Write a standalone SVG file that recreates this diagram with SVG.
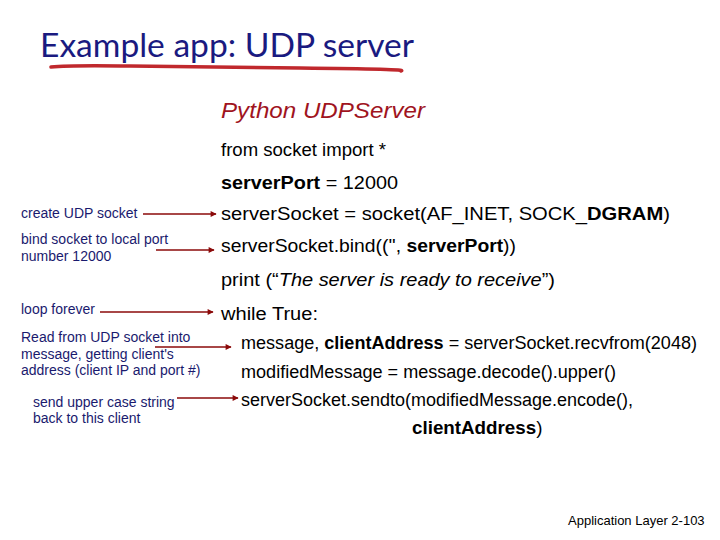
<svg xmlns="http://www.w3.org/2000/svg" width="720" height="540" viewBox="0 0 720 540">
<style>
.title{font-family:Lato,"Open Sans","Liberation Sans",sans-serif;font-size:33.5px;fill:#1a1a80}
.code{font-family:"Liberation Sans",Arial,sans-serif;font-size:18.8px;fill:#000}
.b{font-weight:bold}
.py{font-family:"Liberation Sans",Arial,sans-serif;font-size:22.5px;font-style:italic;fill:#a0141e}
.lbl{font-family:"Liberation Sans",Arial,sans-serif;font-size:14px;fill:#1a1a6e}
.foot{font-family:"Liberation Sans",Arial,sans-serif;font-size:13px;fill:#000}
.arr{stroke:#8b0a0a;stroke-width:1.3;fill:none;marker-end:url(#ah)}
</style>
<defs>
<marker id="ah" viewBox="0 0 10 10" refX="9" refY="5" markerWidth="7" markerHeight="6" orient="auto" markerUnits="userSpaceOnUse">
<path d="M0,0 L10,5 L0,10 z" fill="#8b0a0a"/>
</marker>
</defs>
<rect width="720" height="540" fill="#fff"/>
<g id="title">
<text class="title" x="40" y="57" textLength="374" lengthAdjust="spacingAndGlyphs">Example app: UDP server</text>
<path d="M51,67 Q70,65 130,66 T300,68 T401,71" stroke="#c0282d" stroke-width="3.5" fill="none" stroke-linecap="round"/>
</g>
<g id="code">
<text class="py" x="221" y="118" textLength="204" lengthAdjust="spacingAndGlyphs">Python UDPServer</text>
<text class="code" x="221" y="156" textLength="165" lengthAdjust="spacingAndGlyphs">from socket import *</text>
<text class="code" x="221" y="189" textLength="177" lengthAdjust="spacingAndGlyphs"><tspan class="b">serverPort</tspan> = 12000</text>
<text class="code" x="221" y="220" textLength="449" lengthAdjust="spacingAndGlyphs">serverSocket = socket(AF_INET, SOCK_<tspan class="b">DGRAM</tspan>)</text>
<text class="code" x="221" y="252" textLength="295" lengthAdjust="spacingAndGlyphs">serverSocket.bind(('', <tspan class="b">serverPort</tspan>))</text>
<text class="code" x="221" y="286" textLength="334" lengthAdjust="spacingAndGlyphs">print (“<tspan font-style="italic">The server is ready to receive</tspan>”)</text>
<text class="code" x="221" y="320" textLength="97" lengthAdjust="spacingAndGlyphs">while True:</text>
<text class="code" x="241" y="349" textLength="456" lengthAdjust="spacingAndGlyphs">message, <tspan class="b">clientAddress</tspan> = serverSocket.recvfrom(2048)</text>
<text class="code" x="241" y="378" textLength="375" lengthAdjust="spacingAndGlyphs">modifiedMessage = message.decode().upper()</text>
<text class="code" x="241" y="406" textLength="392" lengthAdjust="spacingAndGlyphs">serverSocket.sendto(modifiedMessage.encode(),</text>
<text class="code" x="412" y="434" font-size="18.5"><tspan class="b">clientAddress</tspan>)</text>
</g>
<g id="labels">
<text class="lbl" x="21" y="218">create UDP socket</text>
<text class="lbl" x="21" y="244">bind socket to local port</text>
<text class="lbl" x="21" y="261">number 12000</text>
<text class="lbl" x="21" y="314">loop forever</text>
<text class="lbl" x="21" y="342">Read from UDP socket into</text>
<text class="lbl" x="21" y="359">message, getting client's</text>
<text class="lbl" x="21" y="375">address (client IP and port #)</text>
<text class="lbl" x="33" y="407">send upper case string</text>
<text class="lbl" x="33" y="423">back to this client</text>
</g>
<g id="connectors">
<line class="arr" x1="143" y1="214" x2="216" y2="214"/>
<line class="arr" x1="156" y1="250" x2="214" y2="250"/>
<line class="arr" x1="100" y1="312" x2="213" y2="312"/>
<line class="arr" x1="155" y1="347" x2="231" y2="347"/>
<line class="arr" x1="177" y1="398" x2="238" y2="398"/>
</g>
<text class="foot" x="568" y="525">Application Layer 2-103</text>
</svg>
